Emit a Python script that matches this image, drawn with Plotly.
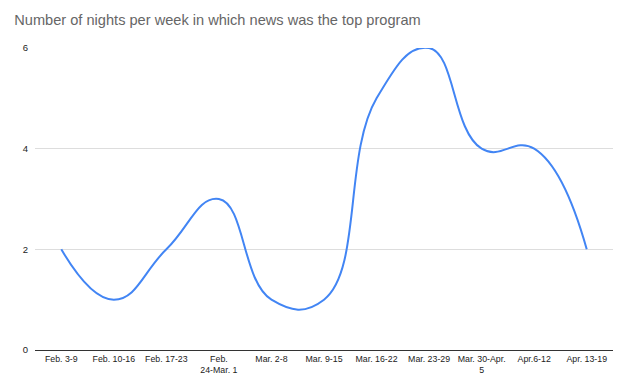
import plotly.graph_objects as go

weeks = ["Feb. 3-9", "Feb. 10-16", "Feb. 17-23", "Feb.<br>24-Mar. 1", "Mar. 2-8",
         "Mar. 9-15", "Mar. 16-22", "Mar. 23-29", "Mar. 30-Apr.<br>5", "Apr.6-12", "Apr. 13-19"]
nights = [2, 1, 2, 3, 1, 1, 5, 6, 4, 4, 2]
y_ticks = [0, 2, 4, 6]

fig = go.Figure()
fig.add_trace(go.Scatter(
    x=weeks, y=nights, mode="lines",
    line=dict(color="#4285F4", width=2, shape="spline", smoothing=1.3),
    showlegend=False,
))

fig.update_layout(
    width=622, height=384,
    margin=dict(l=35, r=9, t=48, b=34),
    paper_bgcolor="white", plot_bgcolor="white",
    title=dict(text="Number of nights per week in which news was the top program",
               x=0.023, xanchor="left", y=0.948, yanchor="middle",
               font=dict(family="Liberation Sans, Arial", size=14.6, color="#666666")),
    font=dict(family="Liberation Sans, Arial", size=10, color="#222222"),
    xaxis=dict(type="category", range=[-0.5, 10.5], showgrid=False, automargin=False,
               showline=False, ticks="", tickangle=0, ticklabelstandoff=2,
               tickfont=dict(size=8.8, color="#222222")),
    yaxis=dict(range=[0, 6], tickvals=y_ticks, showgrid=True, gridcolor="#dddddd",
               gridwidth=1, zeroline=True, zerolinecolor="#333333", zerolinewidth=1,
               ticks="", ticklabelstandoff=6, automargin=False,
               tickfont=dict(size=9.5, color="#222222")),
)

fig.write_html("out.html")
